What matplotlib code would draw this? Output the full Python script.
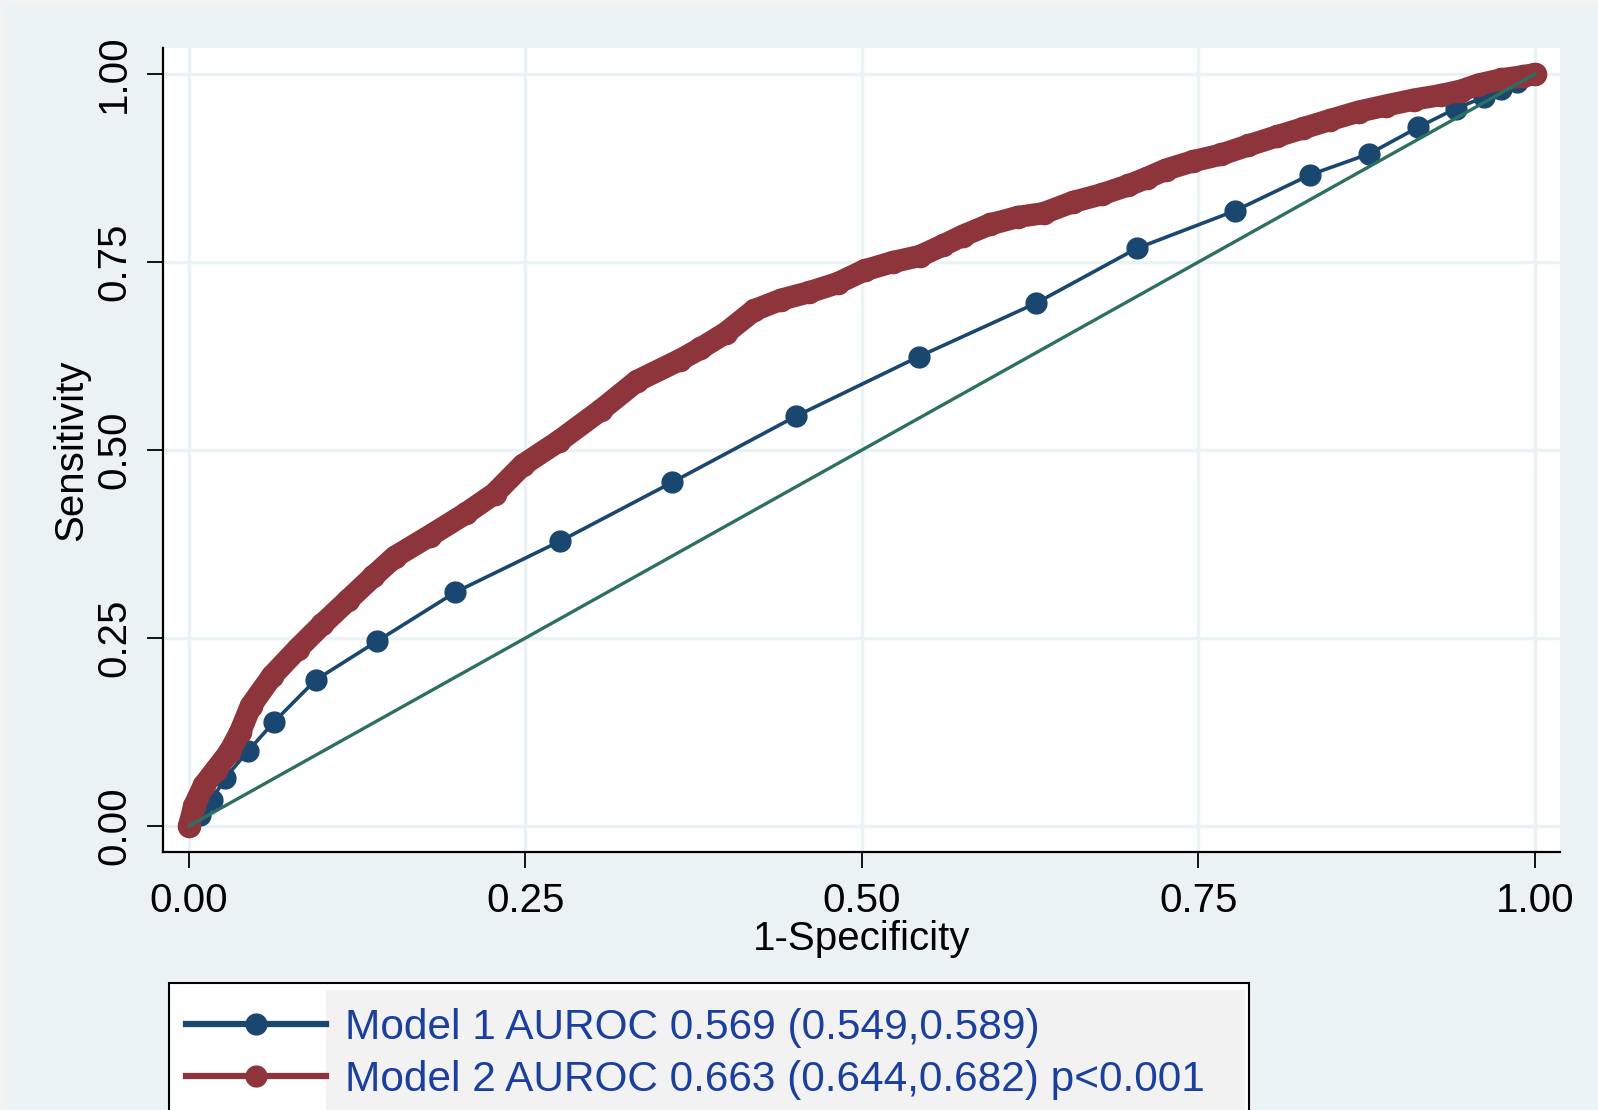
import matplotlib
matplotlib.use("Agg")
import matplotlib.pyplot as plt
from matplotlib.lines import Line2D
from matplotlib.patches import Rectangle

# ROC points
m1_fpr = [0.0, 0.008, 0.017, 0.027, 0.044, 0.063, 0.094, 0.140, 0.198, 0.276, 0.359,
          0.451, 0.542, 0.629, 0.704, 0.777, 0.833, 0.877, 0.913, 0.941, 0.962,
          0.975, 0.987, 1.0]
m1_tpr = [0.0, 0.014, 0.035, 0.064, 0.100, 0.138, 0.194, 0.246, 0.311, 0.379, 0.457,
          0.545, 0.624, 0.695, 0.768, 0.818, 0.866, 0.894, 0.929, 0.954, 0.969,
          0.980, 0.990, 1.0]

m2_fpr = [0.0, 0.004, 0.011, 0.020, 0.030, 0.038, 0.046, 0.062, 0.081, 0.099, 0.118,
          0.137, 0.153, 0.179, 0.206, 0.227, 0.248, 0.275, 0.306, 0.333, 0.365,
          0.380, 0.399, 0.420, 0.440, 0.461, 0.482, 0.502, 0.523, 0.543, 0.560,
          0.575, 0.595, 0.616, 0.635, 0.657, 0.678, 0.698, 0.712, 0.726, 0.746,
          0.767, 0.787, 0.808, 0.828, 0.848, 0.869, 0.889, 0.910, 0.930, 0.945,
          0.958, 0.975, 0.991, 1.0]
m2_tpr = [0.0, 0.027, 0.054, 0.075, 0.098, 0.125, 0.160, 0.200, 0.236, 0.268, 0.300,
          0.332, 0.358, 0.386, 0.416, 0.442, 0.480, 0.512, 0.553, 0.592, 0.620,
          0.635, 0.656, 0.686, 0.700, 0.710, 0.722, 0.739, 0.750, 0.758, 0.772,
          0.785, 0.800, 0.810, 0.815, 0.830, 0.840, 0.852, 0.862, 0.873, 0.884,
          0.893, 0.905, 0.917, 0.928, 0.939, 0.950, 0.958, 0.966, 0.972, 0.978,
          0.986, 0.993, 0.997, 1.0]

ref_line = [0.0, 1.0]
ticks = [0.0, 0.25, 0.5, 0.75, 1.0]
tick_labels = ["0.00", "0.25", "0.50", "0.75", "1.00"]
labels = ["Model 1 AUROC 0.569 (0.549,0.589)",
          "Model 2 AUROC 0.663 (0.644,0.682) p<0.001"]

blue = "#1A476F"
red = "#8E353C"
green = "#2E7060"
bg = "#EAF2F3"

plt.rcParams["font.family"] = ["Liberation Sans", "DejaVu Sans"]

W, H = 1598, 1110
fig = plt.figure(figsize=(W / 100, H / 100), dpi=100)
fig.patch.set_facecolor("#F2F2F2")
fig.patches.append(Rectangle((5 / W, 0), 1, 1 - 5 / H, transform=fig.transFigure,
                             facecolor=bg, edgecolor="none", zorder=0))

ax = fig.add_axes([163 / W, 1 - 852 / H, (1560 - 163) / W, (852 - 48) / H])
ax.set_zorder(3)
ax.set_facecolor("white")

ax.plot(m1_fpr, m1_tpr, color=blue, lw=2.6, marker="o", ms=15, zorder=3)
ax.plot(m2_fpr, m2_tpr, color=red, lw=16, solid_capstyle="round",
        solid_joinstyle="round", marker="o", ms=16, zorder=4)
ax.plot(ref_line, ref_line, color=green, lw=2.4, zorder=5)

ax.set_xlim(-0.0193, 1.0186)
ax.set_ylim(-0.0346, 1.0346)
ax.set_xticks(ticks)
ax.set_xticklabels(tick_labels)
ax.set_yticks(ticks)
ax.set_yticklabels(tick_labels, rotation=90, va="center")
ax.grid(True, color=bg, lw=2.5)
ax.set_axisbelow(True)
for s in ["top", "right"]:
    ax.spines[s].set_visible(False)
for s in ["left", "bottom"]:
    ax.spines[s].set_linewidth(1.6)
ax.tick_params(length=11.5, width=1.3, labelsize=29, pad=10)

ax.set_xlabel("1-Specificity", fontsize=29)
ax.xaxis.set_label_coords(0.5, -0.084)
ax.set_ylabel("Sensitivity", fontsize=29)
ax.yaxis.set_label_coords(-0.052, 0.5)

# legend box: white key area + grey label area
fig.patches.append(Rectangle((169 / W, -0.1), (1249 - 169) / W, 0.1 + 1 - 983 / H,
                             transform=fig.transFigure, facecolor="white",
                             edgecolor="black", lw=1.5, zorder=1))
fig.patches.append(Rectangle((326 / W, -0.1), (1245 - 326) / W, 0.1 + 1 - 990 / H,
                             transform=fig.transFigure, facecolor="#F2F2F2",
                             edgecolor="none", zorder=1))

handles = [Line2D([], [], color=blue, lw=4.5, marker="o", ms=15),
           Line2D([], [], color=red, lw=4.5, marker="o", ms=15)]
leg = fig.legend(handles, labels, loc="upper left",
                 bbox_to_anchor=(186 / W, 1 - 1008 / H), frameon=False,
                 fontsize=30.5, labelcolor="#1B3F9C", handlelength=3.3,
                 handletextpad=0.45, labelspacing=0.28, borderpad=0, borderaxespad=0)
leg.set_zorder(2)

fig.savefig("out.png", dpi=100, facecolor=fig.get_facecolor())
